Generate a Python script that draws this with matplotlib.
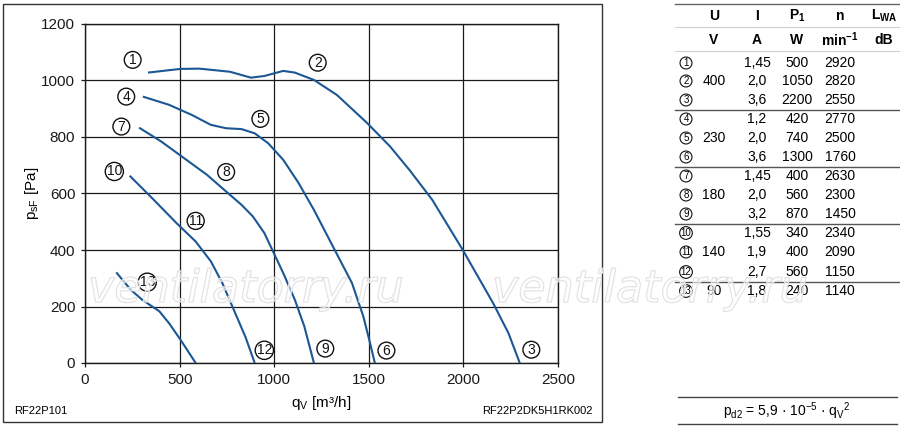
import matplotlib
matplotlib.use("Agg")
import matplotlib.pyplot as plt
import matplotlib.patheffects as pe
from matplotlib.patches import Rectangle
from matplotlib.lines import Line2D

plt.rcParams['font.family'] = ['Liberation Sans', 'DejaVu Sans']
plt.rcParams['mathtext.fontset'] = 'custom'
plt.rcParams['mathtext.rm'] = 'Liberation Sans'
plt.rcParams['mathtext.it'] = 'Liberation Sans:italic'
plt.rcParams['mathtext.bf'] = 'Liberation Sans:bold'

# ---- curve data (qV m3/h, psF Pa) ----
q_123 = [333, 504, 605, 766, 877, 948, 1048, 1109, 1210, 1331, 1492, 1613, 1714, 1835, 1996, 2157, 2238, 2298]
p_123 = [1028, 1041, 1042, 1031, 1010, 1016, 1034, 1028, 1002, 949, 849, 766, 684, 578, 401, 212, 106, 0]

q_456 = [306, 444, 565, 665, 746, 827, 897, 968, 1048, 1129, 1210, 1310, 1411, 1471, 1502, 1532]
p_456 = [943, 914, 878, 843, 831, 828, 813, 778, 719, 637, 542, 413, 283, 165, 83, 0]

q_789 = [286, 403, 524, 645, 746, 827, 887, 948, 998, 1048, 1109, 1159, 1210]
p_789 = [833, 784, 725, 666, 607, 560, 519, 460, 389, 318, 224, 130, 0]

q_101112 = [236, 363, 484, 585, 665, 726, 786, 847, 897]
p_101112 = [663, 578, 495, 430, 360, 283, 189, 94, 0]

q_13 = [165, 242, 302, 393, 444, 504, 585]
p_13 = [321, 259, 224, 183, 141, 83, 0]

curves = [(q_123, p_123), (q_456, p_456), (q_789, p_789), (q_101112, p_101112), (q_13, p_13)]

label_names = ['1', '2', '3', '4', '5', '6', '7', '8', '9', '10', '11', '12', '13']
label_q = [252, 1230, 2359, 218, 927, 1593, 192, 746, 1270, 155, 585, 948, 329]
label_p = [1073, 1063, 47, 943, 864, 44, 837, 676, 51, 678, 503, 45, 286]

x_ticks = [0, 500, 1000, 1500, 2000, 2500]
y_ticks = [0, 200, 400, 600, 800, 1000, 1200]

# ---- table data ----
tbl_U = ['', '400', '', '', '230', '', '', '180', '', '', '140', '', '90']
tbl_I = ['1,45', '2,0', '3,6', '1,2', '2,0', '3,6', '1,45', '2,0', '3,2', '1,55', '1,9', '2,7', '1,8']
tbl_P = ['500', '1050', '2200', '420', '740', '1300', '400', '560', '870', '340', '400', '560', '240']
tbl_n = ['2920', '2820', '2550', '2770', '2500', '1760', '2630', '2300', '1450', '2340', '2090', '1150', '1140']

W, H = 900, 429
fig = plt.figure(figsize=(9.0, 4.29), dpi=100)

def fx(px):
    return px / W

def fy(py):
    return 1 - py / H

# outer frame around chart
fig.add_artist(Rectangle((fx(3), fy(422)), fx(602) - fx(3), fy(4) - fy(422),
                         transform=fig.transFigure, fill=False, edgecolor='#333333', linewidth=1.0))

ax = fig.add_axes([fx(85), fy(363), fx(558) - fx(85), fy(24) - fy(363)])
blue = '#1b5794'
for q, p in curves:
    ax.plot(q, p, color=blue, linewidth=1.5, solid_capstyle='butt', zorder=3)

for name, q, p in zip(label_names, label_q, label_p):
    ax.text(q, p, name, fontsize=10, ha='center', va='center', color='#111111', zorder=4,
            bbox=dict(boxstyle='circle,pad=0.1', fc='none', ec='#111111', lw=1.0))

ax.set_xlim(0, 2500)
ax.set_ylim(0, 1200)
ax.set_xticks(x_ticks)
ax.set_yticks(y_ticks)
ax.grid(True, color='#1a1a1a', linewidth=0.9)
ax.set_axisbelow(True)
for s in ax.spines.values():
    s.set_color('#1a1a1a')
    s.set_linewidth(1.0)
ax.tick_params(direction='out', length=3, width=0.9, labelsize=11, pad=4, colors='#1a1a1a')
ax.set_xlabel(r'$\mathrm{q}_{\mathrm{V}}$ [m³/h]', fontsize=11, labelpad=5)
ax.set_ylabel(r'$\mathrm{p}_{\mathrm{sF}}$ [Pa]', fontsize=11, labelpad=0)

fig.text(fx(14), fy(411), 'RF22P101', fontsize=8, ha='left', va='center')
fig.text(fx(593), fy(411), 'RF22P2DK5H1RK002', fontsize=8, ha='right', va='center')

# ---- table ----
col_c = 686
col_U = 714
col_I = 757
col_P = 797
col_n = 840
col_L = 884
hdr_fs = 10
fig.text(fx(col_U), fy(16), 'U', fontsize=hdr_fs, weight='bold', ha='center', va='center')
fig.text(fx(col_I), fy(16), 'I', fontsize=hdr_fs, weight='bold', ha='center', va='center')
fig.text(fx(col_P), fy(16), r'$\mathbf{P}_{\mathbf{1}}$', fontsize=hdr_fs, ha='center', va='center')
fig.text(fx(col_n), fy(16), 'n', fontsize=hdr_fs, weight='bold', ha='center', va='center')
fig.text(fx(col_L), fy(16), r'$\mathbf{L}_{\mathbf{WA}}$', fontsize=hdr_fs, ha='center', va='center')
fig.text(fx(col_U), fy(40), 'V', fontsize=hdr_fs, weight='bold', ha='center', va='center')
fig.text(fx(col_I), fy(40), 'A', fontsize=hdr_fs, weight='bold', ha='center', va='center')
fig.text(fx(col_P), fy(40), 'W', fontsize=hdr_fs, weight='bold', ha='center', va='center')
fig.text(fx(col_n), fy(40), r'$\mathbf{min}^{\mathbf{-1}}$', fontsize=hdr_fs, ha='center', va='center')
fig.text(fx(col_L), fy(40), 'dB', fontsize=hdr_fs, weight='bold', ha='center', va='center')

row_y = [63, 81, 100, 119, 138, 157, 176, 195, 214, 233, 252, 272, 291]
for i, yy in enumerate(row_y):
    fig.text(fx(col_c), fy(yy), label_names[i], fontsize=7, ha='center', va='center',
             bbox=dict(boxstyle='circle,pad=0.1', fc='none', ec='#111111', lw=0.8))
    fig.text(fx(col_U), fy(yy), tbl_U[i], fontsize=10, ha='center', va='center')
    fig.text(fx(col_I), fy(yy), tbl_I[i], fontsize=10, ha='center', va='center')
    fig.text(fx(col_P), fy(yy), tbl_P[i], fontsize=10, ha='center', va='center')
    fig.text(fx(col_n), fy(yy), tbl_n[i], fontsize=10, ha='center', va='center')

for yy, col, lw in [(4, '#666666', 1.0), (27, '#d0d0d0', 0.8), (51, '#d0d0d0', 0.8),
                    (110, '#555555', 1.0), (167, '#555555', 1.0), (224, '#555555', 1.0),
                    (282, '#555555', 1.0)]:
    fig.add_artist(Line2D([fx(675), fx(900)], [fy(yy), fy(yy)], transform=fig.transFigure,
                          color=col, linewidth=lw))

for yy in [397, 424]:
    fig.add_artist(Line2D([fx(678), fx(897)], [fy(yy), fy(yy)], transform=fig.transFigure,
                          color='#444444', linewidth=1.0))
fig.text(fx(787), fy(411), r'$\mathrm{p}_{\mathrm{d2}}$ = 5,9 · 10$^{\mathrm{-5}}$ · $\mathrm{q}_{\mathrm{V}}{}^{2}$',
         fontsize=10, ha='center', va='center')

# ---- watermark ----
for x0 in [88, 492]:
    fig.text(fx(x0), fy(302), 'ventilatorry.ru', fontsize=32, style='italic',
             family='DejaVu Sans', ha='left', va='baseline', color=(1, 1, 1, 0.35),
             path_effects=[pe.withStroke(linewidth=0.9, foreground='#dedede')], zorder=10)

fig.savefig('out.png', dpi=100)
